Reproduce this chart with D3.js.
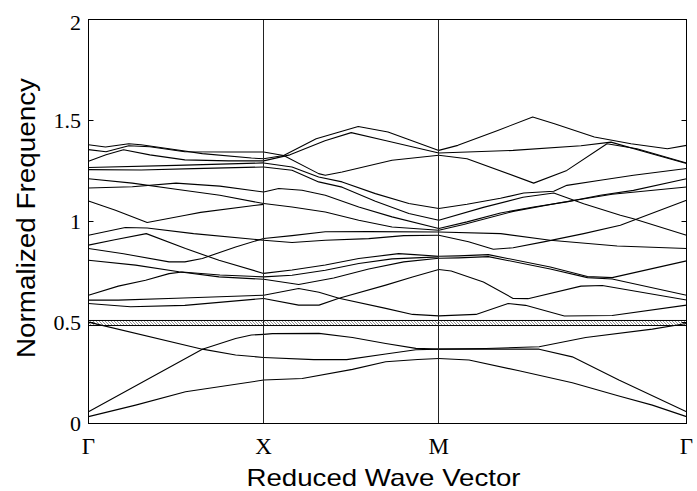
<!DOCTYPE html>
<html><head><meta charset="utf-8">
<script src="https://cdn.jsdelivr.net/npm/d3@7"></script>
<style>body{margin:0;background:#fff}</style>
</head><body>
<svg id="chart" width="697" height="491"></svg>
<script>
// high-symmetry points (reduced k distance) and their labels
const kLabels = ["Γ", "X", "M", "Γ"];
const kPositions = [0, 1, 2, 2 + Math.SQRT2];
const yTickValues = [0, 0.5, 1, 1.5, 2];
const yTickLabels = ["0", "0.5", "1", "1.5", "2"];
const gapBand = [0.485, 0.51];

// each band: list of [fraction along segment, normalized frequency]
const bandsGX = [
  [[0,0.034],[0.269,0.091],[0.554,0.157],[1,0.215]],
  [[0,0.058],[0.65,0.368],[0.84,0.421],[0.93,0.438],[1,0.441]],
  [[0,0.502],[0.65,0.368],[0.84,0.339],[1,0.327]],
  [[0,0.594],[0.24,0.578],[0.55,0.585],[1,0.619]],
  [[0,0.611],[0.17,0.611],[0.5,0.62],[1,0.635]],
  [[0,0.635],[0.17,0.68],[0.326,0.709],[0.46,0.742],[0.535,0.75],[0.75,0.735],[1,0.726]],
  [[0,0.808],[0.269,0.784],[0.516,0.751],[0.745,0.726],[1,0.714]],
  [[0,0.866],[0.2,0.84],[0.46,0.80],[0.55,0.80],[0.65,0.817],[0.84,0.874],[1,0.916]],
  [[0,0.883],[0.15,0.91],[0.33,0.94],[0.554,0.866],[0.745,0.808],[1,0.743]],
  [[0,0.932],[0.21,0.97],[0.335,0.968],[0.6,0.94],[1,0.907]],
  [[0,1.102],[0.154,1.056],[0.335,0.995],[0.554,1.031],[0.64,1.045],[1,1.085]],
  [[0,1.166],[0.25,1.172],[0.5,1.19],[0.75,1.175],[1,1.146]],
  [[0,1.212],[0.25,1.19],[0.5,1.16],[0.75,1.13],[1,1.089]],
  [[0,1.257],[0.3,1.255],[0.6,1.262],[1,1.27]],
  [[0,1.267],[0.5,1.278],[1,1.29]],
  [[0,1.298],[0.1,1.33],[0.2,1.355],[0.35,1.33],[0.55,1.305],[0.8,1.30],[1,1.30]],
  [[0,1.356],[0.1,1.345],[0.23,1.375],[0.35,1.37],[0.55,1.345],[0.8,1.344],[1,1.344]],
  [[0,1.38],[0.097,1.369],[0.23,1.385],[0.3,1.38],[0.46,1.36],[0.65,1.336],[0.93,1.314],[1,1.311]]
];
const bandsXM = [
  [[0,0.215],[0.22,0.223],[0.507,0.268],[0.697,0.306],[0.88,0.317],[1,0.322]],
  [[0,0.327],[0.287,0.316],[0.474,0.316],[0.697,0.344],[0.869,0.365],[1,0.368]],
  [[0,0.441],[0.05,0.445],[0.316,0.446],[0.507,0.426],[0.697,0.396],[0.869,0.372],[1,0.368]],
  [[0,0.635],[0.2,0.668],[0.316,0.65],[0.43,0.62],[0.697,0.57],[0.85,0.54],[1,0.533]],
  [[0,0.619],[0.2,0.586],[0.316,0.586],[0.43,0.62],[0.697,0.685],[0.85,0.725],[1,0.762]],
  [[0,0.714],[0.2,0.688],[0.4,0.72],[0.6,0.765],[0.8,0.80],[1,0.818]],
  [[0,0.726],[0.162,0.734],[0.352,0.759],[0.543,0.792],[0.733,0.815],[1,0.825]],
  [[0,0.743],[0.162,0.76],[0.352,0.785],[0.543,0.817],[0.771,0.841],[0.86,0.836],[1,0.828]],
  [[0,0.907],[0.162,0.896],[0.352,0.907],[0.6,0.915],[0.8,0.93],[1,0.932]],
  [[0,0.916],[0.162,0.93],[0.352,0.949],[0.6,0.95],[1,0.948]],
  [[0,1.089],[0.162,1.072],[0.352,1.047],[0.543,1.006],[0.733,0.973],[1,0.957]],
  [[0,1.146],[0.086,1.163],[0.219,1.155],[0.352,1.13],[0.543,1.072],[0.733,1.023],[1,0.965]],
  [[0,1.27],[0.162,1.254],[0.314,1.196],[0.448,1.17],[0.638,1.10],[0.829,1.04],[1,1.006]],
  [[0,1.29],[0.162,1.27],[0.314,1.22],[0.448,1.196],[0.638,1.138],[0.829,1.089],[1,1.064]],
  [[0,1.344],[0.114,1.327],[0.314,1.237],[0.352,1.229],[0.448,1.245],[0.733,1.303],[1,1.328]],
  [[0,1.311],[0.114,1.327],[0.3,1.41],[0.54,1.47],[0.71,1.443],[1,1.352]],
  [[0,1.30],[0.15,1.33],[0.35,1.40],[0.5,1.44],[0.7,1.40],[1,1.339]]
];
const bandsMG = [
  [[0,0.322],[0.122,0.314],[0.324,0.261],[0.539,0.202],[0.727,0.136],[0.862,0.091],[1,0.034]],
  [[0,0.368],[0.405,0.368],[0.539,0.33],[0.727,0.215],[1,0.058]],
  [[0,0.368],[0.19,0.371],[0.405,0.38],[0.593,0.426],[0.862,0.467],[1,0.495]],
  [[0,0.533],[0.15,0.54],[0.28,0.594],[0.35,0.585],[0.507,0.532],[0.7,0.535],[1,0.586]],
  [[0,0.762],[0.05,0.755],[0.18,0.701],[0.3,0.619],[0.36,0.618],[0.574,0.68],[0.66,0.683],[1,0.611]],
  [[0,0.818],[0.08,0.82],[0.2,0.826],[0.45,0.765],[0.6,0.722],[0.7,0.715],[1,0.635]],
  [[0,0.828],[0.08,0.83],[0.2,0.836],[0.45,0.775],[0.6,0.728],[0.7,0.722],[1,0.805]],
  [[0,0.948],[0.25,0.94],[0.45,0.907],[0.72,0.879],[1,0.866]],
  [[0,0.932],[0.12,0.90],[0.22,0.863],[0.3,0.87],[0.423,0.899],[0.585,0.94],[0.733,0.981],[1,1.105]],
  [[0,0.957],[0.1,0.985],[0.3,1.05],[0.5,1.095],[0.7,1.135],[1,1.171]],
  [[0,0.965],[0.114,0.998],[0.249,1.042],[0.383,1.072],[0.517,1.097],[0.652,1.13],[0.786,1.154],[1,1.212]],
  [[0,1.006],[0.18,1.07],[0.34,1.12],[0.464,1.141],[0.585,1.088],[0.733,1.031],[0.786,1.014],[1,0.932]],
  [[0,1.064],[0.114,1.085],[0.249,1.115],[0.343,1.141],[0.464,1.15],[0.517,1.179],[0.652,1.204],[0.786,1.229],[1,1.262]],
  [[0,1.328],[0.114,1.311],[0.383,1.19],[0.517,1.253],[0.679,1.385],[0.8,1.36],[1,1.29]],
  [[0,1.339],[0.3,1.352],[0.574,1.375],[0.695,1.393],[0.87,1.332],[1,1.287]],
  [[0,1.352],[0.077,1.377],[0.238,1.451],[0.379,1.517],[0.467,1.484],[0.628,1.418],[0.776,1.385],[0.923,1.36],[1,1.377]]
];

const segments = [
  {from: kPositions[0], to: kPositions[1], bands: bandsGX},
  {from: kPositions[1], to: kPositions[2], bands: bandsXM},
  {from: kPositions[2], to: kPositions[3], bands: bandsMG}
];

const svg = d3.select("#chart");
const x = d3.scaleLinear().domain([0, kPositions[3]]).range([88.5, 686.5]);
const y = d3.scaleLinear().domain([0, 2]).range([423.5, 19.5]);
const crisp = v => Math.round(v - 0.5) + 0.5;

// hatch pattern for the gap
const defs = svg.append("defs");
const pat = defs.append("pattern").attr("id", "hatch").attr("patternUnits", "userSpaceOnUse")
  .attr("width", 3).attr("height", 3);
pat.append("path").attr("d", "M-1,-1 L4,4 M-1,2 L1,4 M2,-1 L4,1")
  .attr("stroke", "#666").attr("stroke-width", 0.7);

const x0 = x(0), x1 = x(kPositions[3]);
svg.append("rect").attr("x", x0).attr("width", x1 - x0)
  .attr("y", y(gapBand[1])).attr("height", y(gapBand[0]) - y(gapBand[1]))
  .attr("fill", "url(#hatch)");
gapBand.forEach(v => {
  svg.append("line").attr("x1", x0).attr("x2", x1)
    .attr("y1", y(v)).attr("y2", y(v))
    .attr("stroke", "#000").attr("stroke-width", 1);
});

// bands
segments.forEach(seg => {
  const line = d3.line()
    .x(d => x(seg.from + d[0] * (seg.to - seg.from)))
    .y(d => y(d[1]));
  svg.append("g").selectAll("path").data(seg.bands).join("path")
    .attr("d", line)
    .attr("fill", "none").attr("stroke", "#000").attr("stroke-width", 1.1)
    .attr("stroke-linejoin", "round");
});

// vertical lines at high-symmetry points
kPositions.slice(1, 3).forEach(k => {
  svg.append("line").attr("x1", crisp(x(k))).attr("x2", crisp(x(k)))
    .attr("y1", y(0)).attr("y2", y(2))
    .attr("stroke", "#222").attr("stroke-width", 1);
});

// frame
svg.append("rect").attr("x", x0).attr("y", y(2)).attr("width", x1 - x0).attr("height", y(0) - y(2))
  .attr("fill", "none").attr("stroke", "#000").attr("stroke-width", 1);

// y ticks
yTickValues.forEach((v, i) => {
  const yy = crisp(y(v));
  svg.append("line").attr("x1", x0).attr("x2", x0 + 5).attr("y1", yy).attr("y2", yy).attr("stroke", "#000");
  svg.append("line").attr("x1", x1 - 5).attr("x2", x1).attr("y1", yy).attr("y2", yy).attr("stroke", "#000");
  svg.append("text").attr("x", 81).attr("y", y(v) + (v === 2 ? 3 : 0)).attr("dy", "0.36em")
    .attr("text-anchor", "end")
    .attr("font-family", "Liberation Serif, Times New Roman, serif").attr("font-size", 22)
    .text(yTickLabels[i]);
});

// x tick labels
kPositions.forEach((k, i) => {
  svg.append("text").attr("x", x(k)).attr("y", 454)
    .attr("text-anchor", "middle")
    .attr("font-family", "Liberation Serif, Times New Roman, serif").attr("font-size", 23)
    .text(kLabels[i]);
});

// axis titles
svg.append("text").attr("x", 383.5).attr("y", 486).attr("text-anchor", "middle")
  .attr("font-family", "Liberation Sans, Arial, sans-serif").attr("font-size", 24)
  .attr("textLength", 274).attr("lengthAdjust", "spacingAndGlyphs")
  .text("Reduced Wave Vector");
svg.append("text").attr("transform", "translate(35,218) rotate(-90)").attr("text-anchor", "middle")
  .attr("font-family", "Liberation Sans, Arial, sans-serif").attr("font-size", 26)
  .attr("textLength", 280).attr("lengthAdjust", "spacingAndGlyphs")
  .text("Normalized Frequency");
</script>
</body></html>
